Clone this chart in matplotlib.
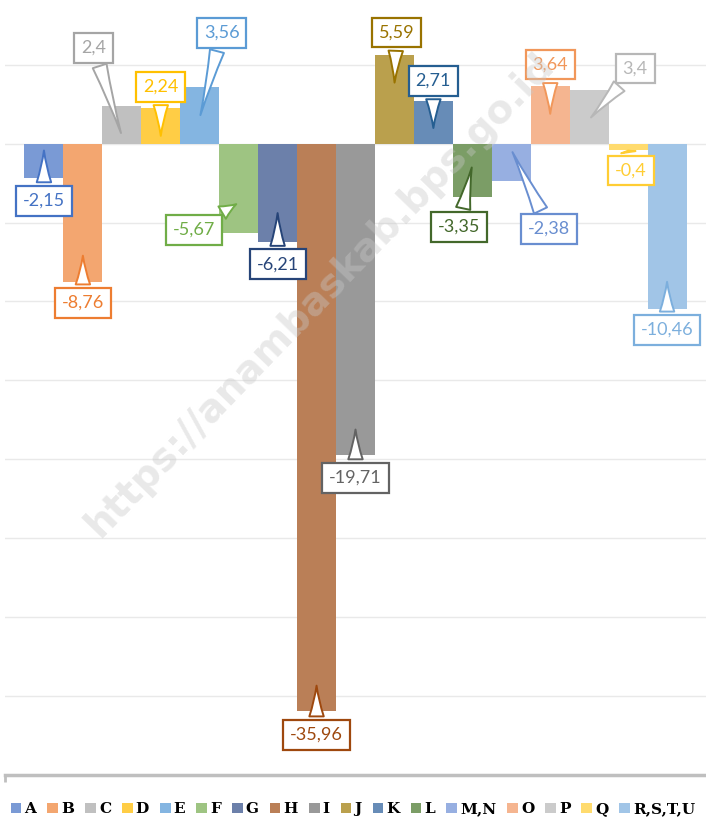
import numpy as np
import matplotlib.pyplot as plt

# kategori lapangan usaha dan pertumbuhan (%)
categories = ['A', 'B', 'C', 'D', 'E', 'F', 'G', 'H', 'I', 'J', 'K', 'L',
              'M,N', 'O', 'P', 'Q', 'R,S,T,U']
values = [-2.15, -8.76, 2.4, 2.24, 3.56, -5.67, -6.21, -35.96, -19.71, 5.59,
          2.71, -3.35, -2.38, 3.64, 3.4, -0.4, -10.46]
labels = ['-2,15', '-8,76', '2,4', '2,24', '3,56', '-5,67', '-6,21', '-35,96',
          '-19,71', '5,59', '2,71', '-3,35', '-2,38', '3,64', '3,4', '-0,4',
          '-10,46']

bar_colors = ['#7A9AD5', '#F3A670', '#C0C0C0', '#FFCD45', '#84B5E1', '#9EC482',
              '#6C80AA', '#BA7F57', '#999999', '#BAA04D', '#678CB7', '#7B9D66',
              '#97AFE1', '#F5B590', '#CBCBCB', '#FFDB6E', '#A1C5E7']
label_colors = ['#4472C4', '#ED7D31', '#A5A5A5', '#FFC000', '#5B9BD5', '#70AD47',
                '#264478', '#9E480E', '#636363', '#997300', '#255E91', '#43682B',
                '#698ED0', '#F1975A', '#B7B7B7', '#FFCD33', '#7CAFDD']

# callout layout: tip position as fraction of bar, text offset in pixels
tip_frac = [0.12, 0.79, 0.21, 0.14, 0.46, 0.66, 0.68, 0.95, 0.91, 0.66,
            0.30, 0.40, 0.16, 0.47, 0.45, 1.0, 0.82]
offsets = [(0, -53), (0, -50), (-28, 88), (0, 52), (22, 85), (-45, -27),
           (0, -54), (0, -52), (0, -51), (2, 53), (0, 50), (-13, -62),
           (38, -79), (0, 52), (46, 51), (3, -20), (0, -51)]

fig = plt.figure(figsize=(7.06, 8.25), dpi=100)
ax = fig.add_axes([5/706, 50/825, 701/706, 775/825])

x = np.arange(len(categories))
for i in range(len(categories)):
    ax.bar(x[i], values[i], width=1.0, color=bar_colors[i], label=categories[i],
           zorder=2)

for i in range(len(categories)):
    tip = values[i] * tip_frac[i]
    if values[i] < 0 and tip_frac[i] >= 1.0:
        tip = values[i] * 1.1
    ax.annotate(labels[i], xy=(x[i], tip), xytext=offsets[i],
                textcoords='offset pixels', ha='center', va='center',
                fontsize=13, color=label_colors[i], family='Lato', zorder=5,
                bbox=dict(boxstyle='square,pad=0.38', fc='white',
                          ec=label_colors[i], lw=1.6),
                arrowprops=dict(arrowstyle='wedge,tail_width=0.8,shrink_factor=0.4',
                                fc='white', ec=label_colors[i], lw=1.4))

ax.set_xlim(-1, 17)
ax.set_ylim(-40, 9.1)
ax.set_yticks(np.arange(-35, 10, 5))
ax.yaxis.grid(True, color='#E9E9E9', lw=1, zorder=0)
ax.tick_params(axis='y', length=0, labelleft=False)
ax.set_xticks([-1])
ax.tick_params(axis='x', length=5, color='#BFBFBF', width=2, labelbottom=False)
for s in ['top', 'left', 'right']:
    ax.spines[s].set_visible(False)
ax.spines['bottom'].set_color('#BFBFBF')
ax.spines['bottom'].set_linewidth(2.5)

# watermark
ax.text(0.45, 0.62, 'https://anambaskab.bps.go.id', transform=ax.transAxes,
        rotation=46, ha='center', va='center', fontsize=28, fontweight='bold',
        color='#C8C8C8', alpha=0.4, zorder=6, family='DejaVu Sans')

fig.legend(loc='lower center', bbox_to_anchor=(0.5, -0.006), ncol=17, frameon=False,
           handlelength=0.7, handleheight=0.7, handletextpad=0.2, columnspacing=0.72,
           prop={'family': 'DejaVu Serif', 'weight': 'bold', 'size': 11})

fig.savefig('out.png', dpi=100)
